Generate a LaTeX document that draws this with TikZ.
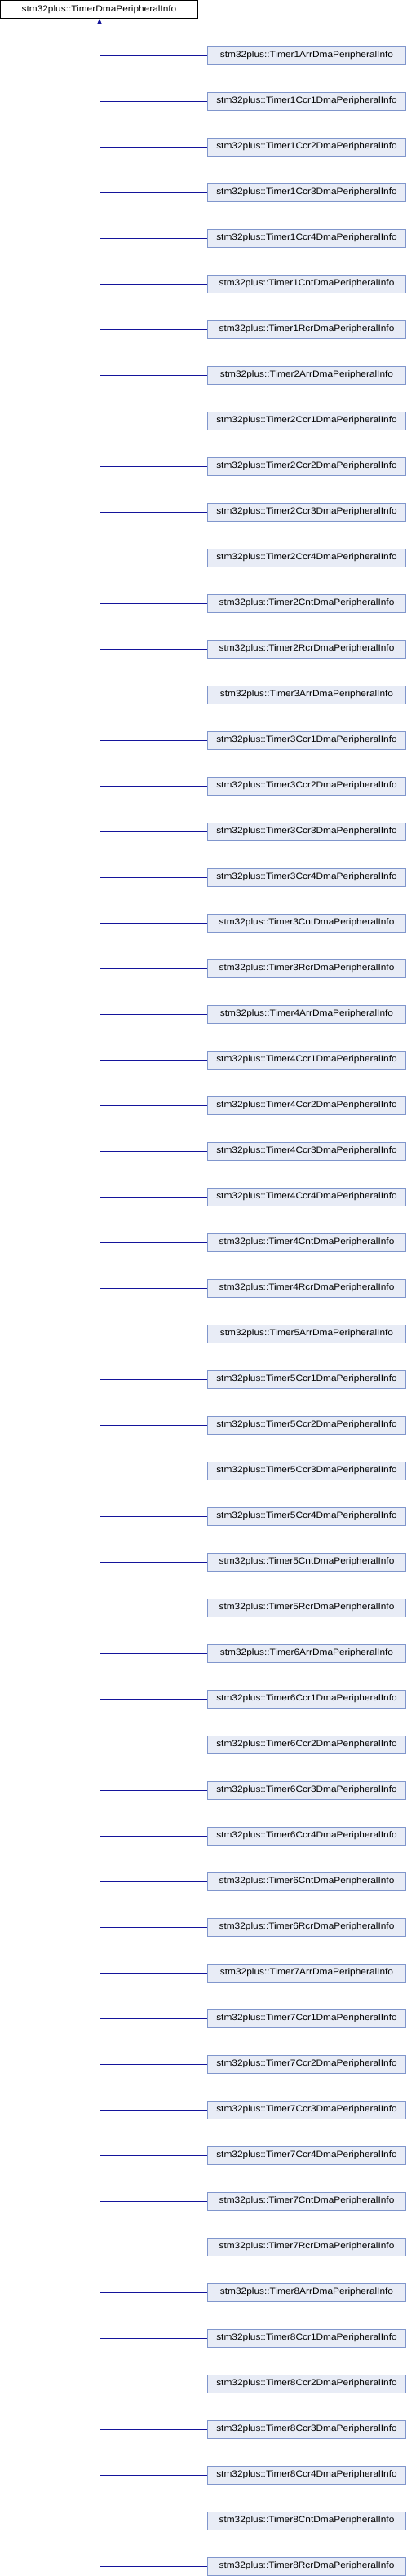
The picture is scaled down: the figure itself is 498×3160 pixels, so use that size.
\documentclass[tikz,border=0pt]{standalone}
\usepackage{fontspec}
\setmainfont{Liberation Sans}
\newfontfamily\dxfont[FakeStretch=1.1]{Liberation Sans}
\usetikzlibrary{arrows.meta}
\definecolor{edgeblue}{RGB}{20,20,155}
\definecolor{childfill}{RGB}{232,236,246}
\definecolor{childdraw}{RGB}{128,150,204}
\tikzset{
  basebox/.style={draw=black, fill=white, line width=0.9pt, minimum width=242pt, minimum height=22pt, inner sep=0pt, font=\dxfont\fontsize{10.8pt}{12pt}\selectfont},
  childbox/.style={draw=childdraw, fill=childfill, line width=0.9pt, minimum width=243pt, minimum height=22pt, inner sep=0pt, font=\dxfont\fontsize{10.8pt}{12pt}\selectfont},
  edge/.style={draw=edgeblue, line width=0.9pt},
}
\begin{document}
\begin{tikzpicture}[x=1pt,y=-1pt]
\useasboundingbox (0,0) rectangle (498,3160);
\node[basebox] (base) at (121.5,11.5) {stm32plus::TimerDmaPeripheralInfo};
\foreach \t [count=\ti from 0] in {1,...,8}{
  \foreach \k [count=\ki from 0] in {Arr,Ccr1,Ccr2,Ccr3,Ccr4,Cnt,Rcr}{
    \pgfmathtruncatemacro{\idx}{\ti*7+\ki}
    \node[childbox] (c\idx) at (376,68+56*\idx) {stm32plus::Timer\t\k DmaPeripheralInfo};
    \draw[edge] (122,0 |- c\idx.west) -- (c\idx.west);
  }
}
\draw[edge,{Triangle[length=6pt,width=5pt]}-] (base.south -| 122,0) -- (122,3148);
\end{tikzpicture}
\end{document}
